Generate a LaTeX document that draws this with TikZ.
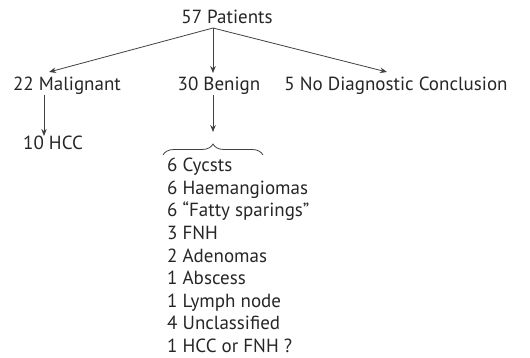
\documentclass[tikz,border=0pt]{standalone}
\usepackage{fontspec}
\setmainfont{PT Sans}
\usepackage{tikz}
\usetikzlibrary{arrows.meta, positioning, calc, decorations.pathreplacing}

\begin{document}
\begin{tikzpicture}[
    x=1pt, y=-1pt,
    lbl/.style={inner sep=0pt, text=black!85, font=\fontsize{19}{22.6}\selectfont},
    arrow/.style={-{Stealth[length=7pt,width=5.5pt]}, line width=0.8pt, black!75},
    bracket/.style={decorate, decoration={brace, amplitude=11pt}, line width=0.8pt, black!75}
]
    \useasboundingbox (0,0) rectangle (530,358);

    \node[lbl] (pat) at (227,17) {57 Patients};
    \coordinate (split) at (213,28);

    \node[lbl] (mal) at (67,86) {22 Malignant};
    \node[lbl] (ben) at (219,86) {30 Benign};
    \node[lbl] (nodc) at (396,86) {5 No Diagnostic Conclusion};

    \node[lbl, anchor=west] (hcc) at (23,143) {10 HCC};

    % brace over the benign findings
    \coordinate (brl) at (163,155);
    \coordinate (brr) at (263,155);
    \coordinate (brtip) at (213,140);
    \draw[bracket] (brl) -- (brr);

    \node[lbl, anchor=north west, align=left] (list) at (167,158) {%
        6 Cycsts\\
        6 Haemangiomas\\
        6 “Fatty sparings”\\
        3 FNH\\
        2 Adenomas\\
        1 Abscess\\
        1 Lymph node\\
        4 Unclassified\\
        1 HCC or FNH ?};

    \draw[arrow] (split) -- ($(mal.north)+(-18,-5)$);
    \draw[arrow] (split) -- (split |- 0,73);
    \draw[arrow] (split) -- ($(nodc.north)+(-9,-5)$);

    \draw[arrow] (mal.south -| 44,0) -- (hcc.north -| 44,0);
    \draw[arrow] (ben.south -| split) -- ($(brtip)+(0,-8)$);
\end{tikzpicture}
\end{document}
